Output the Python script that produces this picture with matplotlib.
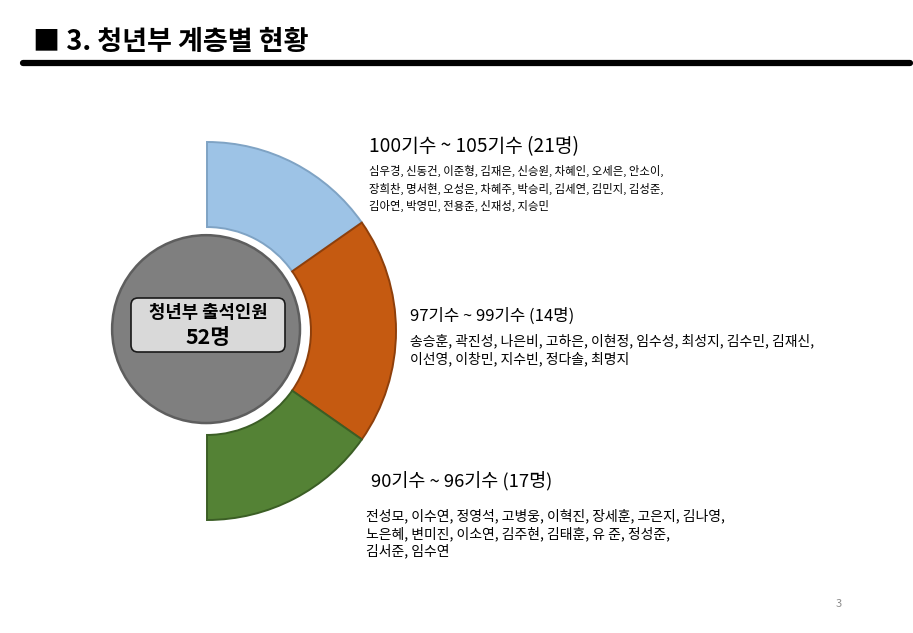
import matplotlib
matplotlib.use("Agg")
import matplotlib.pyplot as plt
from matplotlib.patches import Circle, FancyBboxPatch

plt.rcParams["font.family"] = ["Noto Sans CJK KR", "DejaVu Sans"]

# data
title = "■ 3. 청년부 계층별 현황"
center_label = "청년부 출석인원"
total_people = 52
group_labels = ["100기수 ~ 105기수", "97기수 ~ 99기수", "90기수 ~ 96기수"]
group_counts = [21, 14, 17]
wedge_degrees = [55, 70, 55]          # arc size of each ring segment as drawn
group_colors = ["#9DC3E6", "#C55A11", "#548235"]
edge_colors = ["#7FA3C4", "#8E3F0B", "#3B5E25"]
group_names = [
    ["심우경, 신동건, 이준형, 김재은, 신승원, 차혜인, 오세은, 안소이,",
     "장희찬, 명서현, 오성은, 차혜주, 박승리, 김세연, 김민지, 김성준,",
     "김아연, 박영민, 전용준, 신재성, 지승민"],
    ["송승훈, 곽진성, 나은비, 고하은, 이현정, 임수성, 최성지, 김수민, 김재신,",
     "이선영, 이창민, 지수빈, 정다솔, 최명지"],
    ["전성모, 이수연, 정영석, 고병웅, 이혁진, 장세훈, 고은지, 김나영,",
     "노은혜, 변미진, 이소연, 김주현, 김태훈, 유 준, 정성준,",
     "김서준, 임수연"],
]
page_number = "3"

W, H = 913, 633
fig = plt.figure(figsize=(W / 100, H / 100), dpi=100)

# half ring
cx, cy, R = 207, 331, 189
ring = fig.add_axes([(cx - R) / W, (H - cy - R) / H, 2 * R / W, 2 * R / H])
values = wedge_degrees + [360 - sum(wedge_degrees)]
wedges, _ = ring.pie(values, startangle=90, counterclock=False, radius=1,
                     colors=group_colors + ["none"],
                     wedgeprops=dict(width=0.45, linewidth=1.4))
for wedge, edge in zip(wedges, edge_colors + ["none"]):
    wedge.set_edgecolor(edge)
ring.add_patch(Circle((0, 0), 0.535, facecolor="white", edgecolor="none", zorder=3))
ring.add_patch(Circle((-0.005, 0.01), 0.497, facecolor="#7F7F7F", edgecolor="#5E5E5E",
                      linewidth=1.8, zorder=4))
ring.set_xlim(-1, 1); ring.set_ylim(-1, 1); ring.axis("off")

# full-page axes in pixel coordinates for text, above the ring
page = fig.add_axes([0, 0, 1, 1])
page.set_xlim(0, W); page.set_ylim(H, 0); page.axis("off")
page.set_zorder(5)

page.text(33, 42, title, fontsize=19.5, fontweight="bold", va="center", ha="left")
page.plot([23, 910], [63, 63], color="black", linewidth=4.5, solid_capstyle="round")

# center label box
page.add_patch(FancyBboxPatch((131, 298), 154, 54, boxstyle="round,pad=0,rounding_size=7",
                              facecolor="#D9D9D9", edgecolor="#1A1A1A", linewidth=1.2, zorder=5))
page.text(208, 313, center_label, fontsize=12.8, fontweight="bold", ha="center", va="center", zorder=6)
page.text(208, 338, f"{total_people}명", fontsize=15.5, fontweight="bold", ha="center", va="center", zorder=6)

# group captions
heading_pos = [(369, 147), (410, 316), (371, 481)]
heading_size = [13.8, 12.0, 13.3]
names_pos = [(369, 171), (410, 341), (366, 516)]
names_size = [8.2, 10.0, 10.0]
for label, count, names, (hx, hy), hs, (nx, ny), ns in zip(
        group_labels, group_counts, group_names, heading_pos, heading_size, names_pos, names_size):
    page.text(hx, hy, f"{label} ({count}명)", fontsize=hs, ha="left", va="center")
    for i, line in enumerate(names):
        page.text(nx, ny + 17.5 * i, line, fontsize=ns, ha="left", va="center")

page.text(839, 604, page_number, fontsize=8, color="#8C8C8C", ha="center", va="center")

fig.savefig("out.png", dpi=100)
